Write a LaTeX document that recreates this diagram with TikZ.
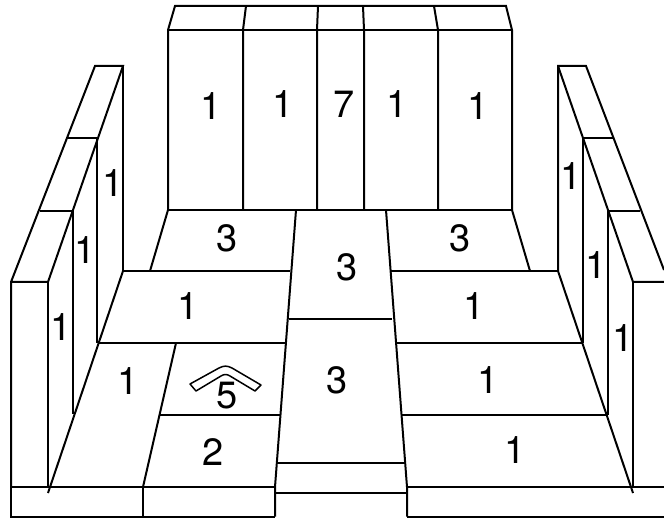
\documentclass[tikz,border=0pt]{standalone}
\usepackage{fontspec}
\setmainfont{TeX Gyre Heros}
\tikzset{
  ln/.style={line width=2pt,line cap=butt,line join=miter,black},
  num/.style={inner sep=0pt,xshift=1pt,font=\fontsize{38}{38}\selectfont,text=black}
}
\begin{document}
\begin{tikzpicture}[x=1pt,y=-1pt]
\useasboundingbox (0,0) rectangle (664,521);
% back wall
\draw[ln] (168,210) -- (168,30) -- (175,6) -- (506,6) -- (512,30) -- (512,210);
\draw[ln] (168,30) -- (512,30);
\draw[ln] (243,210) -- (243,30) -- (246,6);
\draw[ln] (317,210) -- (317,30) -- (318,6);
\draw[ln] (364,210) -- (364,30) -- (363,6);
\draw[ln] (438,210) -- (438,30) -- (434,6);
% left wall
\draw[ln] (11,487) -- (11,282) -- (95,66) -- (123,66) -- (48,282) -- (11,282);
\draw[ln] (67,138) -- (97,138);
\draw[ln] (40,211) -- (73,211);
\draw[ln] (123,66) -- (123,271);
\draw[ln] (97,138) -- (97,343);
\draw[ln] (73,211) -- (73,414);
\draw[ln] (48,282) -- (48,487);
\draw[ln] (123,271) -- (48,493);
% right wall
\draw[ln] (558,271) -- (558,66) -- (586,66) -- (664,270);
\draw[ln] (558,66) -- (633,282) -- (664,282);
\draw[ln] (583,138) -- (613,138);
\draw[ln] (608,211) -- (640,211);
\draw[ln] (583,138) -- (583,343);
\draw[ln] (608,211) -- (608,415);
\draw[ln] (633,282) -- (633,487);
\draw[ln] (558,271) -- (633,493);
% floor
\draw[ln] (168,210) -- (512,210);
\draw[ln] (168,210) -- (150,271);
\draw[ln] (512,210) -- (530,271);
\draw[ln] (123,271) -- (290,271);
\draw[ln] (391,271) -- (558,271);
\draw[ln] (98,343) -- (286,343);
\draw[ln] (395,343) -- (583,343);
\draw[ln] (160,415) -- (280,415);
\draw[ln] (402,415) -- (608,415);
\draw[ln] (176,343) -- (143,487);
\draw[ln] (296,210) -- (275,487) -- (275,516.5);
\draw[ln] (386,210) -- (407,487) -- (407,516.5);
\draw[ln] (289,319) -- (392,319);
\draw[ln] (277,463) -- (405,463);
\draw[ln] (275,493) -- (407,493);
% front step
\draw[ln] (664,487) -- (407,487);
\draw[ln] (275,487) -- (11,487) -- (11,516.5) -- (275,516.5);
\draw[ln] (143,487) -- (143,516.5);
\draw[ln] (407,516.5) -- (664,516.5);
% chevron
\draw[line width=1.5pt,black,line join=round] (190,384) -- (219,368) .. controls (224,365.5) and (227,365.5) .. (232,368) -- (261,385) -- (255,391) -- (230,376) .. controls (227,374) and (224,374) .. (221,376) -- (196,391) -- cycle;
% labels
\node[num] (b1) at (210,106) {1};
\node[num] (b2) at (282,104) {1};
\node[num] (b3) at (343,104) {7};
\node[num] (b4) at (396,104) {1};
\node[num] (b5) at (477,106) {1};
\node[num] (l1) at (112,183) {1};
\node[num] (l2) at (84,250) {1};
\node[num] (l3) at (60,327) {1};
\node[num] (r1) at (570,176) {1};
\node[num] (r2) at (595,265) {1};
\node[num] (r3) at (622,338) {1};
\node[num] (f1) at (226,238) {3};
\node[num] (f2) at (346,267) {3};
\node[num] (f3) at (459,238) {3};
\node[num] (f4) at (187,306) {1};
\node[num] (f5) at (473,306) {1};
\node[num] (f6) at (127,381) {1};
\node[num] (f7) at (226,396) {5};
\node[num] (f8) at (336,380) {3};
\node[num] (f9) at (487,380) {1};
\node[num] (f10) at (212,452) {2};
\node[num] (f11) at (514,450) {1};
\end{tikzpicture}
\end{document}
